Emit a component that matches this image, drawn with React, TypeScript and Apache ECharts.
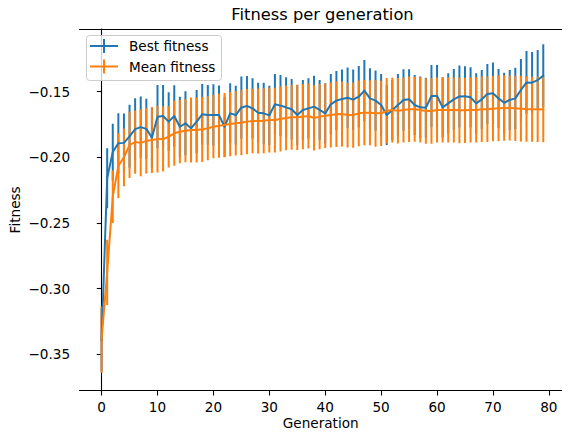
import React, { useEffect, useRef } from "react";
import * as echarts from "echarts";

const BLUE = "#1f77b4";
const ORANGE = "#ff7f0e";
const FONT = "DejaVu Sans";

const generations: number[] = Array.from({ length: 80 }, (_, i) => i);

const bestFitness: number[] = [
  -0.339, -0.216, -0.196, -0.1893, -0.189, -0.184, -0.1785, -0.177, -0.1783, -0.185,
  -0.169, -0.1685, -0.1728, -0.1685, -0.1767, -0.1741, -0.1779, -0.1728, -0.1672, -0.1678,
  -0.1678, -0.1678, -0.1767, -0.1665, -0.1678, -0.162, -0.1609, -0.1627, -0.166, -0.1665,
  -0.168, -0.1596, -0.1606, -0.1619, -0.1634, -0.1678, -0.1639, -0.1627, -0.1614, -0.1639,
  -0.1665, -0.1596, -0.1568, -0.1556, -0.1546, -0.156, -0.1538, -0.1492, -0.1551, -0.1568,
  -0.1601, -0.1678, -0.1639, -0.1601, -0.1563, -0.1558, -0.1601, -0.1619, -0.1622, -0.1533,
  -0.1533, -0.1619, -0.1589, -0.1558, -0.1536, -0.1535, -0.1543, -0.1589, -0.1558, -0.1518,
  -0.1512, -0.1551, -0.1584, -0.1563, -0.1551, -0.1487, -0.1429, -0.1431, -0.1411, -0.1378,
];

const bestErr: number[] = [
  0.0241, 0.0229, 0.0216, 0.0229, 0.0224, 0.024, 0.0236, 0.0234, 0.0229, 0.0229,
  0.0241, 0.0236, 0.0224, 0.0234, 0.0229, 0.0244, 0.0229, 0.0241, 0.0231, 0.0229,
  0.0234, 0.0226, 0.0229, 0.0229, 0.0224, 0.0236, 0.0229, 0.0229, 0.0229, 0.0234,
  0.0226, 0.0231, 0.0234, 0.0229, 0.0231, 0.0229, 0.0229, 0.0229, 0.0236, 0.0229,
  0.0229, 0.0231, 0.0226, 0.0226, 0.0231, 0.0229, 0.0234, 0.0234, 0.0229, 0.0229,
  0.0236, 0.0229, 0.0229, 0.0236, 0.0234, 0.0229, 0.0229, 0.0234, 0.0229, 0.0236,
  0.0236, 0.0229, 0.0229, 0.0231, 0.0236, 0.0229, 0.0229, 0.0229, 0.0224, 0.0229,
  0.0234, 0.0224, 0.0229, 0.0229, 0.0234, 0.0236, 0.0239, 0.0234, 0.0229, 0.0239,
];

const meanFitness: number[] = [
  -0.339, -0.2877, -0.23, -0.2065, -0.2, -0.1905, -0.1884, -0.189, -0.1875, -0.1868,
  -0.1861, -0.1861, -0.1843, -0.1817, -0.1805, -0.1797, -0.1792, -0.1792, -0.1787, -0.1779,
  -0.1767, -0.1759, -0.1754, -0.1746, -0.1741, -0.1736, -0.1728, -0.1723, -0.1723, -0.1721,
  -0.1716, -0.1716, -0.1708, -0.17, -0.1695, -0.1695, -0.169, -0.1685, -0.17, -0.169,
  -0.1683, -0.1678, -0.1672, -0.167, -0.1678, -0.1678, -0.1665, -0.166, -0.166, -0.1665,
  -0.1665, -0.1645, -0.1639, -0.1645, -0.1639, -0.1634, -0.1634, -0.1639, -0.1647, -0.1647,
  -0.1639, -0.1639, -0.1639, -0.1639, -0.1642, -0.1642, -0.1639, -0.1639, -0.1634, -0.1634,
  -0.1629, -0.1627, -0.1624, -0.1624, -0.1627, -0.1629, -0.1632, -0.1634, -0.1634, -0.1636,
];

const meanErr: number[] = [
  0.0252, 0.0248, 0.02, 0.0248, 0.022, 0.0252, 0.0241, 0.0254, 0.0248, 0.0252,
  0.0254, 0.0248, 0.0235, 0.0248, 0.0241, 0.0241, 0.0248, 0.0248, 0.0248, 0.0244,
  0.0241, 0.0244, 0.0245, 0.0245, 0.0246, 0.0248, 0.0248, 0.0246, 0.0248, 0.0249,
  0.0248, 0.0247, 0.0248, 0.0246, 0.0248, 0.0249, 0.0248, 0.0247, 0.0249, 0.0248,
  0.0247, 0.0248, 0.0249, 0.0248, 0.0247, 0.0249, 0.025, 0.0249, 0.0248, 0.0254,
  0.0249, 0.025, 0.0248, 0.0249, 0.0248, 0.0249, 0.0248, 0.0249, 0.025, 0.0249,
  0.0248, 0.0249, 0.0249, 0.0248, 0.025, 0.0249, 0.0248, 0.0249, 0.025, 0.0249,
  0.0249, 0.025, 0.0249, 0.0248, 0.0249, 0.025, 0.0249, 0.0248, 0.0249, 0.025,
];

const xTicks: number[] = [0, 10, 20, 30, 40, 50, 60, 70, 80];
const yTicks: number[] = [-0.35, -0.3, -0.25, -0.2, -0.15];

const fmtY = (v: number) => (v < 0 ? "\u2212" : "") + Math.abs(v).toFixed(2);

function errSeries(name: string, vals: number[], errs: number[], color: string, z: number) {
  return {
    type: "custom",
    name,
    z,
    clip: true,
    encode: { x: 0, y: [1, 2] },
    data: generations.map((g, i) => [g, vals[i] - errs[i], vals[i] + errs[i]]),
    renderItem: (params: any, api: any) => {
      const x = api.value(0);
      const p1 = api.coord([x, api.value(1)]);
      const p2 = api.coord([x, api.value(2)]);
      return {
        type: "line",
        shape: { x1: p1[0], y1: p1[1], x2: p2[0], y2: p2[1] },
        style: { stroke: color, lineWidth: 2, lineCap: "butt" },
      };
    },
  };
}

function lineSeries(name: string, vals: number[], color: string, z: number) {
  return {
    type: "line",
    name,
    z,
    showSymbol: false,
    symbol: "none",
    data: generations.map((g, i) => [g, vals[i]]),
    lineStyle: { color, width: 2, join: "round", cap: "square" },
    itemStyle: { color },
  };
}

export default function App() {
  const ref = useRef<HTMLDivElement>(null);
  useEffect(() => {
    if (!ref.current) return;
    const chart = echarts.init(ref.current, null, { renderer: "svg" });
    const axisLine = { show: true, lineStyle: { color: "#000", width: 1.1 } };
    chart.setOption({
      animation: false,
      backgroundColor: "#fff",
      textStyle: { fontFamily: FONT },
      title: {
        text: "Fitness per generation",
        left: 322.5,
        top: 6,
        padding: 0,
        textAlign: "center",
        textStyle: { fontSize: 16.3, fontWeight: "normal", color: "#000", fontFamily: FONT },
      },
      grid: { left: 79.5, right: 0, top: 29, bottom: 41.3, containLabel: false, outerBoundsMode: "none" },
      xAxis: [
        {
          type: "value",
          min: -3.95,
          max: 82.35,
          position: "bottom",
          name: "Generation",
          nameLocation: "middle",
          nameGap: 24.5,
          nameMoveOverlap: false,
          nameTextStyle: { fontSize: 13.6, color: "#000", fontFamily: FONT, lineHeight: 15 },
          axisLine,
          axisTick: { show: true, length: 4.8, lineStyle: { color: "#000", width: 1.1 }, customValues: xTicks },
          axisLabel: { show: true, margin: 9.4, fontSize: 13.6, color: "#000", fontFamily: FONT, customValues: xTicks },
          splitLine: { show: false },
        },
        {
          type: "value",
          min: -3.95,
          max: 82.35,
          position: "top",
          axisLine,
          axisTick: { show: false },
          axisLabel: { show: false },
          splitLine: { show: false },
        },
      ],
      yAxis: {
        type: "value",
        min: -0.3779,
        max: -0.1022,
        name: "Fitness",
        nameLocation: "middle",
        nameRotate: 90,
        nameGap: 57,
        nameMoveOverlap: false,
        nameTextStyle: { fontSize: 13.6, color: "#000", fontFamily: FONT, lineHeight: 15 },
        axisLine,
        axisTick: { show: true, length: 4.8, lineStyle: { color: "#000", width: 1.1 }, customValues: yTicks },
        axisLabel: {
          show: true,
          margin: 9.4,
          fontSize: 13.6,
          color: "#000",
          fontFamily: FONT,
          customValues: yTicks,
          formatter: (v: number) => fmtY(v),
        },
        splitLine: { show: false },
      },
      series: [
        errSeries("Best fitness error", bestFitness, bestErr, BLUE, 1),
        errSeries("Mean fitness error", meanFitness, meanErr, ORANGE, 2),
        lineSeries("Best fitness", bestFitness, BLUE, 3),
        lineSeries("Mean fitness", meanFitness, ORANGE, 4),
      ],
      graphic: [
        {
          type: "rect",
          z: 100,
          shape: { x: 86.5, y: 35.5, width: 135, height: 45, r: 3 },
          style: { fill: "rgba(255,255,255,0.8)", stroke: "#cccccc", lineWidth: 1 },
        },
        { type: "line", z: 101, shape: { x1: 90, y1: 46, x2: 118, y2: 46 }, style: { stroke: BLUE, lineWidth: 2 } },
        { type: "line", z: 101, shape: { x1: 104, y1: 39, x2: 104, y2: 53 }, style: { stroke: BLUE, lineWidth: 2 } },
        {
          type: "text",
          z: 101,
          x: 129,
          y: 46,
          style: { text: "Best fitness", fontSize: 13.6, fontFamily: FONT, fill: "#000", align: "left", verticalAlign: "middle" },
        },
        { type: "line", z: 101, shape: { x1: 90, y1: 66.5, x2: 118, y2: 66.5 }, style: { stroke: ORANGE, lineWidth: 2 } },
        { type: "line", z: 101, shape: { x1: 104, y1: 59.5, x2: 104, y2: 73.5 }, style: { stroke: ORANGE, lineWidth: 2 } },
        {
          type: "text",
          z: 101,
          x: 129,
          y: 66.5,
          style: { text: "Mean fitness", fontSize: 13.6, fontFamily: FONT, fill: "#000", align: "left", verticalAlign: "middle" },
        },
      ],
    });
    return () => chart.dispose();
  }, []);
  return <div ref={ref} style={{ position: "fixed", left: 0, top: 0, width: 562, height: 432 }} />;
}
